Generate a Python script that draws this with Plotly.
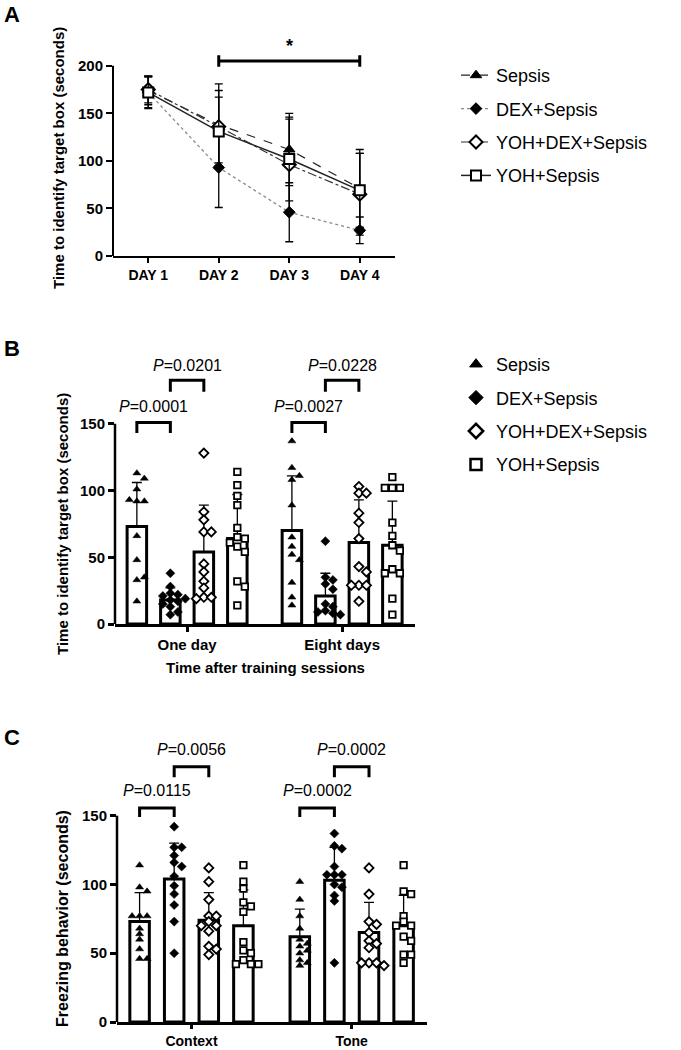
import plotly.graph_objects as go

FONT = "Liberation Sans, Arial, Helvetica, sans-serif"
W, H = 681, 1050

names = ["Sepsis", "DEX+Sepsis", "YOH+DEX+Sepsis", "YOH+Sepsis"]

# ---- panel A: time course (mean, SD)
days = ["DAY 1", "DAY 2", "DAY 3", "DAY 4"]
a_sepsis_mean = [174, 138, 112, 71]
a_sepsis_sd = [15, 43, 38, 41]
a_dex_mean = [172, 93, 46, 27]
a_dex_sd = [17, 42, 31, 14]
a_yohdex_mean = [175, 136, 96, 65]
a_yohdex_sd = [14, 38, 48, 43]
a_yoh_mean = [172, 131, 102, 69]
a_yoh_sd = [16, 36, 44, 39]

# ---- panel B: memory retention
b_groups = ["One day", "Eight days"]
b_sepsis_mean = [73, 70]
b_sepsis_sd = [33, 41]
b_dex_mean = [18, 21]
b_dex_sd = [9, 17]
b_yohdex_mean = [54, 61]
b_yohdex_sd = [35, 32]
b_yoh_mean = [64, 59]
b_yoh_sd = [33, 33]
b_sepsis_pts = [[113, 109, 101, 92, 92, 93, 66, 48, 33, 35, 17],
                [137, 117, 108, 111, 89, 65, 58, 52, 48, 31, 20, 14]]
b_dex_pts = [[38, 28, 23, 22, 21, 19, 18, 17, 15, 13, 9, 7],
             [62, 35, 33, 30, 26, 15, 13, 10, 9, 8, 7]]
b_yohdex_pts = [[128, 84, 78, 69, 69, 45, 39, 32, 27, 20, 20, 19],
                [103, 98, 98, 83, 76, 64, 43, 39, 29, 29, 29, 17]]
b_yoh_pts = [[114, 104, 96, 89, 72, 65, 64, 61, 58, 54, 32, 28, 14],
             [110, 102, 102, 102, 76, 66, 59, 55, 41, 38, 38, 19, 7]]
b_pvals = ["0.0001", "0.0201", "0.0027", "0.0228"]

# ---- panel C: freezing behaviour
c_groups = ["Context", "Tone"]
c_sepsis_mean = [73, 62]
c_sepsis_sd = [21, 20]
c_dex_mean = [104, 103]
c_dex_sd = [26, 24]
c_yohdex_mean = [74, 65]
c_yohdex_sd = [20, 22]
c_yoh_mean = [70, 70]
c_yoh_sd = [26, 22]
c_sepsis_pts = [[114, 98, 95, 77, 77, 77, 68, 64, 60, 53, 46, 46],
                [102, 89, 77, 68, 60, 57, 55, 52, 50, 45, 43, 41]]
c_dex_pts = [[142, 127, 127, 121, 116, 113, 106, 99, 93, 85, 73, 50],
             [137, 128, 126, 113, 107, 107, 107, 100, 98, 92, 88, 43]]
c_yohdex_pts = [[112, 102, 89, 77, 77, 73, 70, 70, 66, 55, 53, 49],
                [112, 93, 73, 71, 65, 59, 57, 54, 43, 43, 43, 41]]
c_yoh_pts = [[114, 102, 97, 87, 84, 80, 58, 52, 50, 45, 42, 42, 42],
             [114, 95, 93, 77, 73, 70, 70, 62, 59, 49, 49, 43]]
c_pvals = ["0.0115", "0.0056", "0.0002", "0.0002"]


def px2x(p):
    return p / W


def px2y(p):
    return 1 - p / H


# layout in pixels (left, right) / (top, bottom)
A_X, A_Y = (113, 395), (42, 256)
B_X, B_Y = (115, 415), (357, 624)
C_X, C_Y = (117, 427), (740, 1022)
a_yrange = [0, 225]
b_yrange = [0, 200]
c_yrange = [0, 205]
bar_xrange = [-0.465, 1.47]
slot = 0.216

symbols = ["triangle-up", "diamond", "diamond", "square"]
fills = ["black", "black", "white", "white"]


def swarm(values, center, ppx, ppy, step=7.5, gap=5.5):
    placed, xs = [], []
    for v in values:
        yv = v * ppy
        for k in [0, 1, -1, 2, -2, 3, -3, 4, -4]:
            dx = k * step
            if all(abs(dx - px) >= step - 0.5 or abs(yv - py) >= gap for px, py in placed):
                break
        placed.append((dx, yv))
        xs.append(center + dx / ppx)
    return xs


fig = go.Figure()

# ---------- panel A
a_means = [a_sepsis_mean, a_dex_mean, a_yohdex_mean, a_yoh_mean]
a_sds = [a_sepsis_sd, a_dex_sd, a_yohdex_sd, a_yoh_sd]
a_lines = [dict(dash="dash", color="#222", width=1.2),
           dict(dash="dot", color="#888", width=1.3),
           dict(dash="dashdot", color="#333", width=1.2),
           dict(dash="solid", color="#222", width=1.5)]
for k in range(4):
    fig.add_trace(go.Scatter(
        x=days, y=a_means[k], name=names[k], mode="lines+markers",
        line=a_lines[k],
        marker=dict(symbol=symbols[k], size=10 if k != 1 else 9, color=fills[k],
                    line=dict(color="black", width=2 if fills[k] == "white" else 1)),
        error_y=dict(type="data", array=a_sds[k], color="black", thickness=1.3, width=4),
        legend="legend", legendgroup="a%d" % k, xaxis="x", yaxis="y"))


# ---------- panels B and C
def bar_panel(n, xdom, ydom, yrange, means, sds, pts):
    ppx = (xdom[1] - xdom[0]) / (bar_xrange[1] - bar_xrange[0])
    ppy = (ydom[1] - ydom[0]) / (yrange[1] - yrange[0])
    bw = 19.5 / ppx
    for k in range(4):
        xs = [g + (k - 1.5) * slot for g in range(2)]
        fig.add_trace(go.Bar(
            x=xs, y=means[k], width=bw, showlegend=False,
            marker=dict(color="white", line=dict(color="black", width=3)),
            error_y=dict(type="data", symmetric=False, array=sds[k], arrayminus=[0, 0],
                         color="black", thickness=1.3, width=5),
            xaxis="x%d" % n, yaxis="y%d" % n))
    for k in range(4):
        for g in range(2):
            cx = g + (k - 1.5) * slot
            fig.add_trace(go.Scatter(
                x=swarm(pts[k][g], cx, ppx, ppy), y=pts[k][g], mode="markers",
                showlegend=False, cliponaxis=False,
                marker=dict(symbol=symbols[k], size=7 if k != 3 else 6.5, color=fills[k],
                            line=dict(color="black", width=1.8 if fills[k] == "white" else 0.5)),
                xaxis="x%d" % n, yaxis="y%d" % n))


bar_panel(2, B_X, B_Y, b_yrange,
          [b_sepsis_mean, b_dex_mean, b_yohdex_mean, b_yoh_mean],
          [b_sepsis_sd, b_dex_sd, b_yohdex_sd, b_yoh_sd],
          [b_sepsis_pts, b_dex_pts, b_yohdex_pts, b_yoh_pts])
bar_panel(3, C_X, C_Y, c_yrange,
          [c_sepsis_mean, c_dex_mean, c_yohdex_mean, c_yoh_mean],
          [c_sepsis_sd, c_dex_sd, c_yohdex_sd, c_yoh_sd],
          [c_sepsis_pts, c_dex_pts, c_yohdex_pts, c_yoh_pts])

# legend entries for panel B
for k in range(4):
    fig.add_trace(go.Scatter(
        x=[None], y=[None], mode="markers", name=names[k],
        marker=dict(symbol=symbols[k], size=11, color=fills[k],
                    line=dict(color="black", width=2.5 if fills[k] == "white" else 1)),
        legend="legend2", legendgroup="b%d" % k, xaxis="x2", yaxis="y2"))

# ---------- axes
tick_font = dict(family=FONT, size=15, color="black", weight="bold")


def xax(dom, **kw):
    d = dict(domain=[px2x(dom[0]), px2x(dom[1])], showline=True, linecolor="black",
             linewidth=2.5, ticks="outside", ticklen=5, tickwidth=2.5, tickcolor="black",
             showgrid=False, zeroline=False, tickfont=tick_font, automargin=False, fixedrange=True)
    d.update(kw)
    return d


def yax(dom, rng, tv, anchor):
    return dict(domain=[px2y(dom[1]), px2y(dom[0])], range=rng, tickvals=tv,
                showline=False, ticks="outside", ticklen=6, tickwidth=2.5, tickcolor="black",
                showgrid=False, zeroline=False, tickfont=tick_font, anchor=anchor,
                automargin=False, fixedrange=True)


layout = dict(
    width=W, height=H, margin=dict(l=0, r=0, t=0, b=0),
    paper_bgcolor="white", plot_bgcolor="white", barmode="overlay",
    font=dict(family=FONT, color="black"),
    xaxis=xax(A_X, type="category", range=[-0.5, 3.5], anchor="y", linewidth=2, tickwidth=2,
              tickfont=dict(family=FONT, size=14, color="black", weight="bold")),
    yaxis=yax(A_Y, a_yrange, [0, 50, 100, 150, 200], "x"),
    xaxis2=xax(B_X, range=bar_xrange, tickvals=[0, 1], ticktext=b_groups, anchor="y2"),
    yaxis2=yax(B_Y, b_yrange, [0, 50, 100, 150], "x2"),
    xaxis3=xax(C_X, range=bar_xrange, tickvals=[0, 1], ticktext=c_groups, anchor="y3",
               ticklen=4, tickfont=dict(family=FONT, size=14, color="black", weight="bold")),
    yaxis3=yax(C_Y, c_yrange, [0, 50, 100, 150], "x3"),
    legend=dict(x=px2x(456), y=px2y(57), xanchor="left", yanchor="top",
                font=dict(family=FONT, size=18, color="black"), tracegroupgap=7,
                bgcolor="rgba(0,0,0,0)"),
    legend2=dict(x=px2x(456), y=px2y(346), xanchor="left", yanchor="top",
                 font=dict(family=FONT, size=18, color="black"), tracegroupgap=7,
                 bgcolor="rgba(0,0,0,0)"),
)
layout["yaxis"]["tickwidth"] = 2
fig.update_layout(**layout)

# y axis lines that stop at the top tick
for n, top, rng, lw in [("", 200, a_yrange, 2), ("2", 150, b_yrange, 2.5), ("3", 150, c_yrange, 2.5)]:
    fig.add_shape(type="line", xref="x%s domain" % n, yref="y%s domain" % n,
                  x0=0, x1=0, y0=0, y1=top / rng[1], line=dict(color="black", width=lw))

# significance bracket for panel A
fig.add_shape(type="path", xref="x", yref="y",
              path="M1,199 L1,211 M1,205 L3,205 M3,199 L3,211",
              line=dict(color="black", width=3))
fig.add_annotation(x=2, y=221, xref="x", yref="y", text="<b>*</b>", showarrow=False,
                   font=dict(family=FONT, size=18, color="black"))


# P-value brackets for panels B and C
def brackets(n, pvals, levels):
    i = 0
    for g in range(2):
        for j, (leg, top, ty) in enumerate(levels):
            x1 = g + (j - 1.5) * slot
            x2 = g + (j - 0.5) * slot
            fig.add_shape(type="path", xref="x%d" % n, yref="y%d" % n,
                          path="M%f,%f L%f,%f L%f,%f L%f,%f" % (x1, leg, x1, top, x2, top, x2, leg),
                          line=dict(color="black", width=3))
            fig.add_annotation(x=(x1 + x2) / 2, y=ty, xref="x%d" % n, yref="y%d" % n,
                               text="<i>P</i>=" + pvals[i], showarrow=False,
                               font=dict(family=FONT, size=16, color="black"))
            i += 1


brackets(2, b_pvals, [(143, 151, 163), (174, 182.5, 194)])
brackets(3, c_pvals, [(149, 155.6, 168), (178, 185.5, 198)])


# text labels
def label(text, x, y, size=15, angle=0):
    fig.add_annotation(x=px2x(x), y=px2y(y), xref="paper", yref="paper", text=text,
                       xanchor="center", yanchor="middle",
                       showarrow=False, textangle=angle,
                       font=dict(family=FONT, size=size, color="black", weight="bold"))


label("A", 12, 15, size=22)
label("B", 12, 348, size=22)
label("C", 12, 737, size=22)
label("Time to identify target box (seconds)", 59, 158, size=15, angle=-90)
label("Time to identify target box (seconds)", 62, 524, size=15, angle=-90)
label("Freezing behavior (seconds)", 62, 919, size=16, angle=-90)
label("Time after training sessions", 265, 667, size=15)

fig.write_html("out.html", config={"displayModeBar": False},
               post_script="document.body.style.margin='0px';")
